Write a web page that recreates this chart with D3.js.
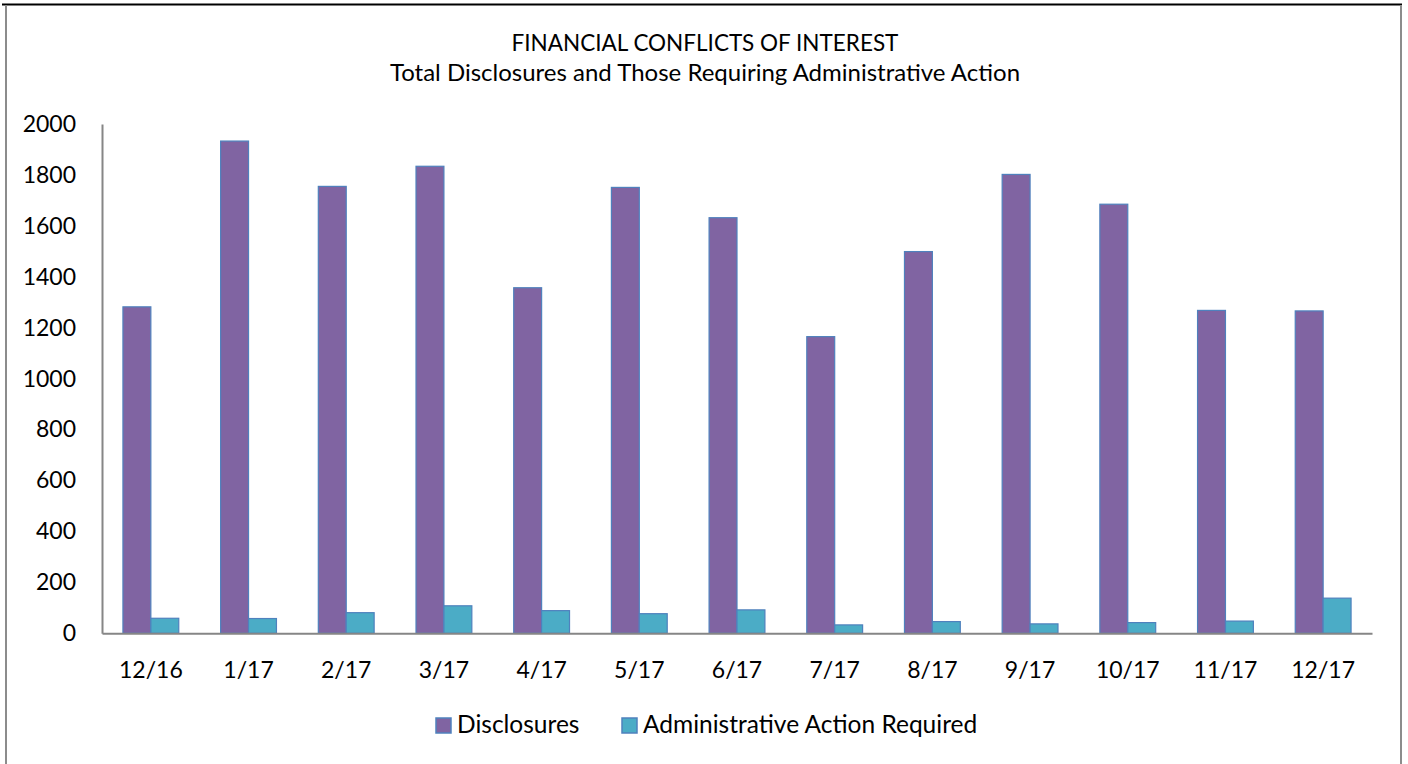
<!DOCTYPE html>
<html>
<head>
<meta charset="utf-8">
<script src="https://cdn.jsdelivr.net/npm/d3@7"></script>
<style>
  body { margin: 0; background: #fff; }
  text { font-family: Lato, "Open Sans", sans-serif; fill: #000; }
</style>
</head>
<body>
<div id="ch"></div>
<script>
// Financial conflicts of interest - grouped bars

const months = ["12/16", "1/17", "2/17", "3/17", "4/17", "5/17", "6/17", "7/17", "8/17", "9/17", "10/17", "11/17", "12/17"];
const disclosures = [1282, 1933, 1755, 1834, 1357, 1751, 1632, 1165, 1499, 1802, 1685, 1268, 1266];
const adminAction = [59, 58, 81, 108, 89, 77, 92, 33, 46, 37, 42, 48, 138];
const yTicks = [0, 200, 400, 600, 800, 1000, 1200, 1400, 1600, 1800, 2000];
const seriesNames = ["Disclosures", "Administrative Action Required"];
const titleLines = ["FINANCIAL CONFLICTS OF INTEREST", "Total Disclosures and Those Requiring Administrative Action"];

const width = 1408;
const height = 764;
const colors = ["#8064A2", "#4BACC6"];

const svg = d3
  .select("#ch")
  .append("svg")
  .attr("width", width)
  .attr("height", height);

/* frame */
svg.append("line")
  .attr("x1", 2).attr("x2", 1402).attr("y1", 4.5).attr("y2", 4.5)
  .style("stroke", "#000").style("stroke-width", 2);
svg.append("line")
  .attr("x1", 6).attr("x2", 6).attr("y1", 5).attr("y2", height)
  .style("stroke", "#8c8c8c").style("stroke-width", 2);
svg.append("line")
  .attr("x1", 1401).attr("x2", 1401).attr("y1", 5).attr("y2", height)
  .style("stroke", "#8c8c8c").style("stroke-width", 2);

/* title */
svg.selectAll(".title")
  .data(titleLines)
  .enter()
  .append("text")
  .attr("class", "title")
  .attr("x", 705)
  .attr("y", (d, i) => 51 + i * 30)
  .attr("text-anchor", "middle")
  .style("font-size", (d, i) => (i == 0 ? "22.5px" : "24px"))
  .text((d) => d);

/* scales */
const plotL = 102, plotR = 1372, plotT = 124, base = 633.3;

const x0 = d3.scaleBand().domain(months).range([plotL, plotR]).padding(0);
const barW = x0.bandwidth() / 3.5;
const x1 = d3.scaleBand()
  .domain([0, 1])
  .range([barW * 0.75, x0.bandwidth() - barW * 0.75]);

const y = d3.scaleLinear().domain([0, 2000]).range([base, plotT]);

/* bars */
const groups = svg.selectAll(".grp")
  .data(months)
  .enter()
  .append("g")
  .attr("transform", (d) => `translate(${x0(d)},0)`);

groups.selectAll("rect")
  .data((d, i) => [disclosures[i], adminAction[i]])
  .enter()
  .append("rect")
  .attr("x", (d, j) => x1(j))
  .attr("y", (d) => y(d))
  .attr("width", x1.bandwidth())
  .attr("height", (d) => base - y(d))
  .style("fill", (d, j) => colors[j])
  .style("stroke", "#4F81BD")
  .style("stroke-width", 1.2);

/* axes */
const yAxis = svg.append("g")
  .attr("transform", `translate(${plotL},0)`)
  .call(d3.axisLeft(y).tickValues(yTicks).tickSize(0).tickPadding(26).tickFormat(d3.format("d")));
yAxis.select(".domain").style("stroke", "#868686").style("stroke-width", 2);
yAxis.selectAll("text").style("font-size", "23px").style("font-family", "Lato");

const xAxis = svg.append("g")
  .attr("transform", `translate(0,${base})`)
  .call(d3.axisBottom(x0).tickSize(0).tickPadding(28));
xAxis.select(".domain").style("stroke", "#868686").style("stroke-width", 2);
xAxis.selectAll("text").style("font-size", "23px").style("font-family", "Lato");

/* legend */
const legendX = [436, 622];
const legend = svg.selectAll(".leg")
  .data(seriesNames)
  .enter()
  .append("g")
  .attr("transform", (d, i) => `translate(${legendX[i]},718)`);

legend.append("rect")
  .attr("width", 15)
  .attr("height", 15)
  .style("fill", (d, i) => colors[i])
  .style("stroke", "#4F81BD")
  .style("stroke-width", 1.5);

legend.append("text")
  .attr("x", 21)
  .attr("y", 15)
  .style("font-size", "24.5px")
  .text((d) => d);
</script>
</body>
</html>
